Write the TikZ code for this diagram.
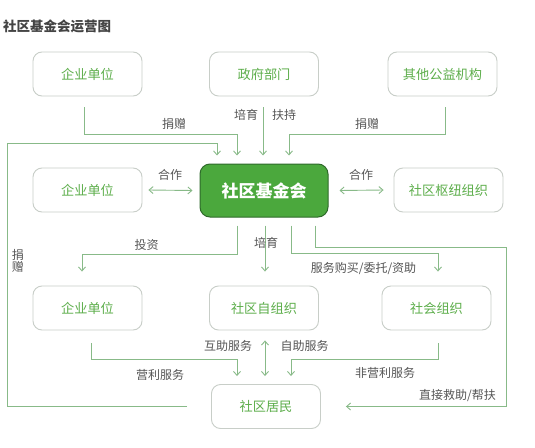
\documentclass[tikz,border=0pt]{standalone}
\usepackage{fontspec}
\setmainfont{Noto Sans CJK SC}
\usetikzlibrary{arrows.meta,calc}
\definecolor{boxline}{HTML}{C8CEC8}
\definecolor{boxtext}{HTML}{5DAE4B}
\definecolor{connc}{HTML}{88BA88}
\definecolor{lbl}{HTML}{555555}
\definecolor{titlec}{HTML}{444444}
\definecolor{hubfill}{HTML}{4BA83D}
\definecolor{hubline}{HTML}{2F6A2B}
\begin{document}
\begin{tikzpicture}[x=1pt,y=-1pt,
 box/.style={draw=boxline, line width=0.9pt, rounded corners=9pt, minimum width=109pt, minimum height=44pt, text=boxtext, font=\fontsize{13.2}{15}\selectfont, inner sep=0pt},
 hub/.style={draw=hubline, fill=hubfill, line width=1pt, rounded corners=10pt, minimum width=128pt, minimum height=53pt, text=white, font=\fontsize{17}{19}\selectfont\bfseries, inner sep=0pt},
 conn/.style={draw=connc, line width=0.9pt},
 arr/.style={conn, -{Straight Barb[length=4pt,width=7pt]}},
 darr/.style={conn, {Straight Barb[length=4pt,width=7pt]}-{Straight Barb[length=4pt,width=7pt]}},
 lab/.style={text=lbl, font=\fontsize{12}{13}\selectfont, inner sep=0pt}]
\fill[white] (0,0) rectangle (535,447);
\useasboundingbox (0,0) rectangle (535,447);

\node[anchor=west, text=titlec, font=\fontsize{13.5}{15}\selectfont\bfseries, inner sep=0pt] (title) at (3,26) {社区基金会运营图};

\node[box] (e1) at (87.5,74) {企业单位};
\node[box] (gov) at (264,74) {政府部门};
\node[box] (oth) at (442.5,74) {其他公益机构};
\node[box] (e2) at (87.5,190) {企业单位};
\node[hub] (hub) at (264,190.5) {社区基金会};
\node[box] (hubo) at (448.5,190) {社区枢纽组织};
\node[box] (e3) at (87.5,308) {企业单位};
\node[box] (self) at (264,308) {社区自组织};
\node[box] (soc) at (436.5,308) {社会组织};
\node[box] (res) at (266,406.5) {社区居民};

% into the foundation
\draw[arr] ($(e1.south)+(-3.5,11)$) |- ($(hub.north)+(-27,-29)$) -- ($(hub.north)+(-27,-8)$);
\node[lab] (l1) at (174,124) {捐赠};
\draw[arr] ($(gov.south)+(-1,11)$) -- ($(hub.north)+(-1,-8)$);
\node[lab] (l2) at (246,115) {培育};
\node[lab] (l3) at (284,115) {扶持};
\draw[arr] ($(oth.south)+(2.5,11)$) |- ($(hub.north)+(25,-29)$) -- ($(hub.north)+(25,-8)$);
\node[lab] (l4) at (367,124) {捐赠};
\coordinate (d0) at ($(res.west)+(-24,0)$);
\draw[arr] (d0) -| (7,143) -| ($(hub.north)+(-47,-8)$);
\node[lab, align=center] (l5) at (18,261) {捐\\[-1pt]赠};

% cooperation
\draw[darr] ($(e2.east)+(6,0)$) -- ($(hub.west)+(-7,0)$);
\node[lab] (l6) at (170,175) {合作};
\draw[darr] ($(hub.east)+(11,0)$) -- ($(hubo.west)+(-10,0)$);
\node[lab] (l7) at (361,175) {合作};

% out of the foundation
\draw[arr] ($(hub.south)+(-27,8)$) |- (82,254) -- ($(e3.north)+(-5.5,-14)$);
\node[lab] (l8) at (146.5,245) {投资};
\draw[arr] ($(hub.south)+(1,8)$) -- ($(self.north)+(1,-14)$);
\node[lab] (l9) at (266,243) {培育};
\draw[arr] ($(hub.south)+(27,8)$) |- (438,253) -- ($(soc.north)+(1.5,-14)$);
\node[lab] (l10) at (363.5,269) {服务购买/委托/资助};
\draw[arr] ($(hub.south)+(51,8)$) |- (506,247) |- ($(res.east)+(25,0)$);
\node[lab] (l11) at (457.5,396) {直接救助/帮扶};

% services to residents
\draw[arr] ($(e3.south)+(3.5,13)$) |- (237,359) -- ($(res.north)+(-29,-8)$);
\node[lab] (l12) at (160,375) {营利服务};
\draw[darr] ($(self.south)+(1,10)$) -- ($(res.north)+(-1,-8)$);
\node[lab] (l13) at (228,346) {互助服务};
\node[lab] (l14) at (304.5,346) {自助服务};
\draw[arr] ($(soc.south)+(1.5,13)$) |- (291,359) -- ($(res.north)+(25,-8)$);
\node[lab] (l15) at (385,373) {非营利服务};
\end{tikzpicture}
\end{document}
